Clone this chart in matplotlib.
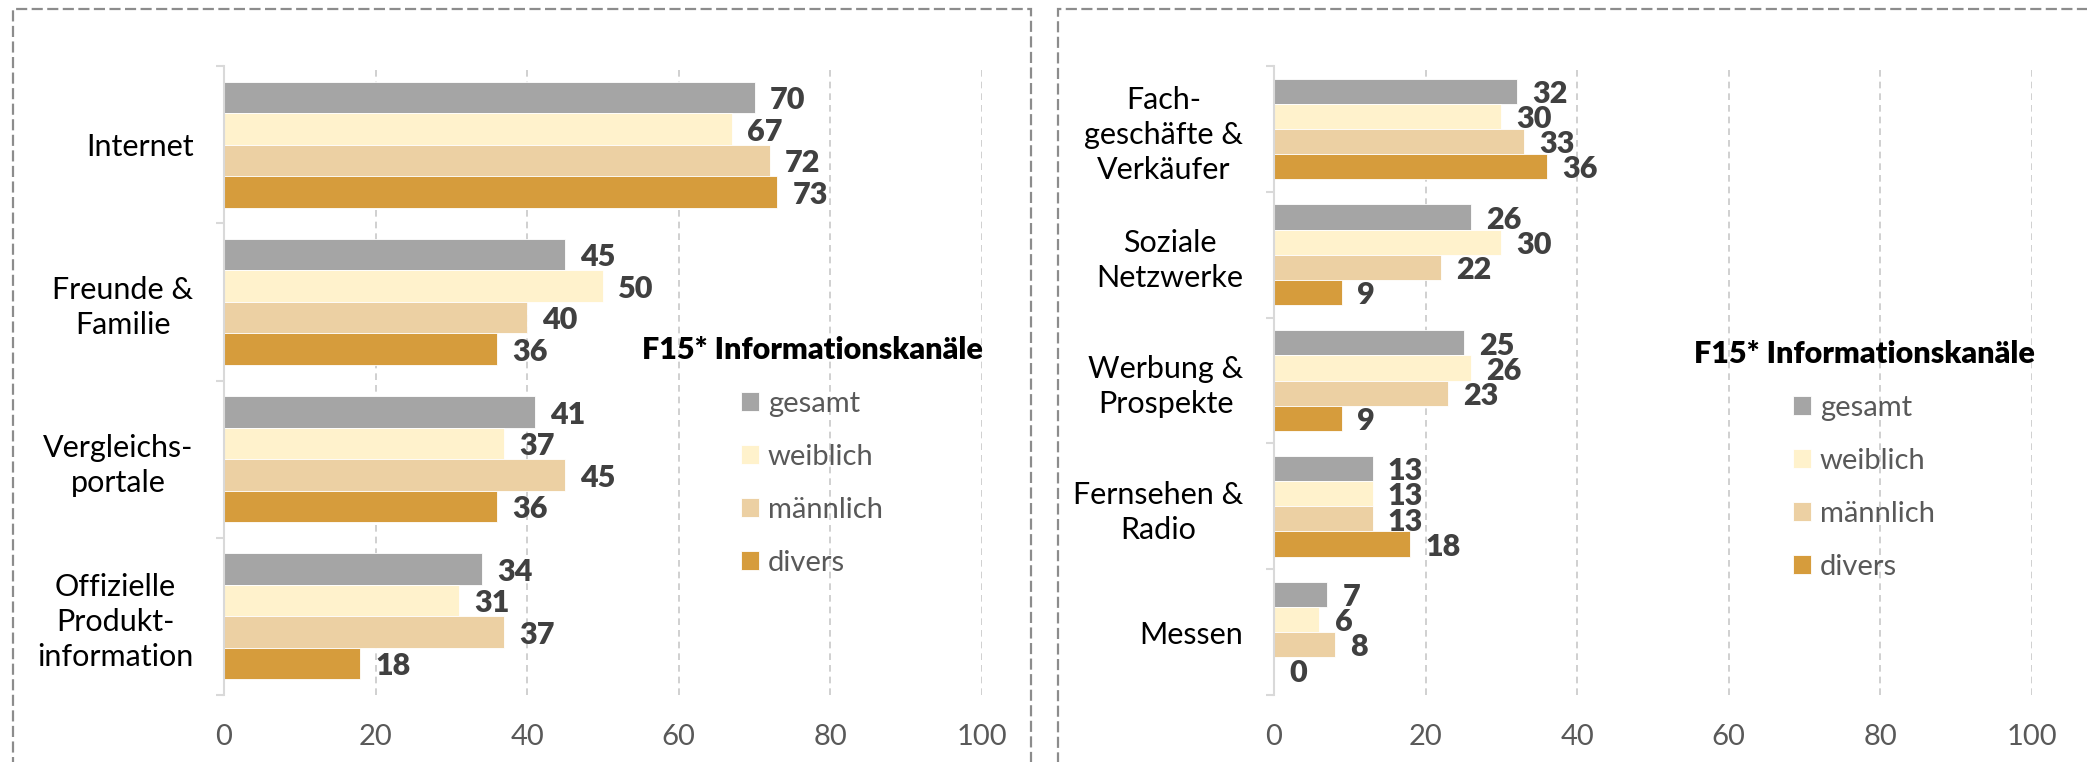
#-----
# Horizontal grouped bar charts: F15* Informationskanäle
#-----

import numpy as np
import matplotlib.pyplot as plt
from matplotlib.patches import Rectangle

plt.rcParams['font.family'] = ['Lato', 'DejaVu Sans']

#%% Data
series          = ['gesamt', 'weiblich', 'männlich', 'divers']
colors          = ['#A5A5A5', '#FFF2CC', '#ECD0A3', '#D69C3C']
legendTitle     = 'F15* Informationskanäle'

leftCats        = ['Internet', 'Freunde &\nFamilie', 'Vergleichs-\nportale', 'Offizielle\nProdukt-\ninformation']
leftGesamt      = [70, 45, 41, 34]
leftWeiblich    = [67, 50, 37, 31]
leftMaennlich   = [72, 40, 45, 37]
leftDivers      = [73, 36, 36, 18]

rightCats       = ['Fach-\ngeschäfte &\nVerkäufer', 'Soziale\nNetzwerke', 'Werbung &\nProspekte', 'Fernsehen &\nRadio', 'Messen']
rightGesamt     = [32, 26, 25, 13, 7]
rightWeiblich   = [30, 30, 26, 13, 6]
rightMaennlich  = [33, 22, 23, 13, 8]
rightDivers     = [36, 9, 9, 18, 0]

xTicks          = [0, 20, 40, 60, 80, 100]

W, H = 2087, 762
fig = plt.figure(figsize=(W/100, H/100), dpi=100)

# dashed panel frames
for x0, x1 in [(13, 1031), (1058, 2200)]:
    rect = Rectangle((x0/W, -0.1), (x1-x0)/W, 1.1 - 9/H, transform=fig.transFigure,
                     fill=False, edgecolor='#8C8C8C', linewidth=1.6, linestyle=(0, (5, 2)))
    fig.add_artist(rect)


def drawPanel(ax, cats, values, legendPos):
    y = np.arange(len(cats))
    barH = 0.2
    for i, (name, vals, col) in enumerate(zip(series, values, colors)):
        pos = y - 0.3 + i*barH
        ax.barh(pos, vals, height=barH, color=col, edgecolor='white', linewidth=0.6,
                label=name, zorder=2)
        for yy, v in zip(pos, vals):
            ax.annotate(str(v), (v, yy), xytext=(11, -2), textcoords='offset points',
                        ha='left', va='center', fontsize=22, fontweight='heavy', color='#404040')

    ax.set_xlim(0, 100)
    ax.set_ylim(len(cats) - 0.5, -0.5)
    ax.set_xticks(xTicks)
    ax.set_yticks(y)
    ax.set_yticklabels(cats, ha='right', multialignment='center', linespacing=1.3)
    ax.set_yticks(np.arange(len(cats) + 1) - 0.5, minor=True)

    ax.tick_params(axis='x', length=0, pad=21, labelsize=21, labelcolor='#595959')
    ax.tick_params(axis='y', which='major', length=0, pad=22, labelsize=22, labelcolor='black')
    ax.tick_params(axis='y', which='minor', length=6, width=1.5, color='#D9D9D9')

    for s in ['top', 'right', 'bottom']:
        ax.spines[s].set_visible(False)
    ax.spines['left'].set_color('#D9D9D9')
    ax.spines['left'].set_linewidth(1.5)

    ax.set_axisbelow(True)
    ax.xaxis.grid(True, linestyle=(0, (4, 3)), color='#C8C8C8', linewidth=1.2)

    ax.legend(loc='center', bbox_to_anchor=legendPos, bbox_transform=fig.transFigure,
              frameon=False, title=legendTitle,
              title_fontproperties={'weight': 'heavy', 'size': 22},
              fontsize=21, labelcolor='#595959', handlelength=0.62, handleheight=0.62,
              handletextpad=0.3, labelspacing=0.92)


axL = fig.add_axes([224/W, 1 - 695/H, 758/W, 629/H])
drawPanel(axL, leftCats, [leftGesamt, leftWeiblich, leftMaennlich, leftDivers], (812/W, 1 - 456/H))

axR = fig.add_axes([1274/W, 1 - 695/H, 758/W, 629/H])
drawPanel(axR, rightCats, [rightGesamt, rightWeiblich, rightMaennlich, rightDivers], (1864/W, 1 - 460/H))

# save figure
plt.savefig('out.png', dpi=100)
